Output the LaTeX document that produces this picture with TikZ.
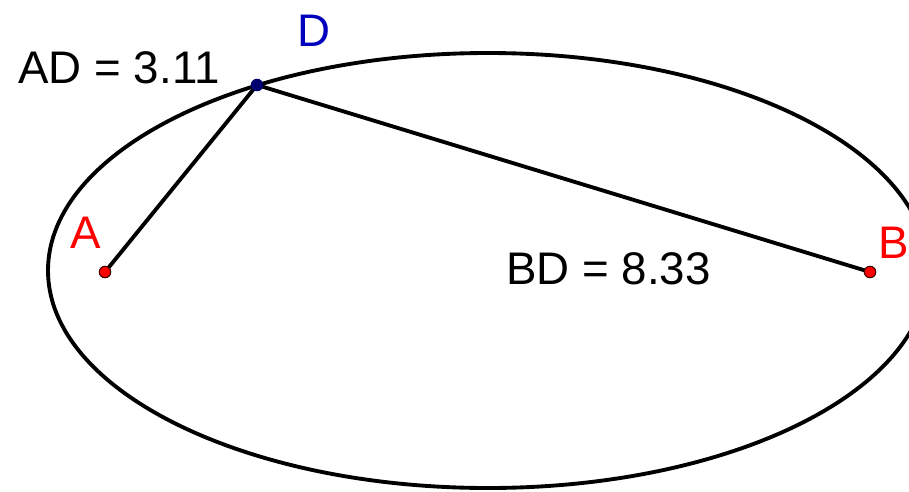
\documentclass[tikz,border=0pt]{standalone}
\usepackage{fontspec}
\setmainfont{Liberation Sans}
\usepackage{tikz}
\usetikzlibrary{positioning,calc}
\definecolor{ptred}{RGB}{255,0,0}
\definecolor{ptblue}{RGB}{0,0,190}
\definecolor{dotblue}{RGB}{0,0,110}
\definecolor{rimdark}{RGB}{60,0,0}

\begin{document}
\begin{tikzpicture}[x={(0.02cm,0)}, y={(0,-0.02cm)},
    curve/.style={line width=2.2pt, black},
    dotpt/.style={circle, fill=#1, draw=rimdark, line width=0.6pt, minimum size=0.23cm, inner sep=0pt},
    lbl/.style={inner sep=0pt, font=\fontsize{26}{31}\selectfont}]
    \useasboundingbox (0,0) rectangle (909,491);
    \clip (0,0) rectangle (909,491);

    % Foci and the point on the ellipse
    \coordinate (A) at (105,272);
    \coordinate (B) at (870,272);
    \coordinate (D) at (257,85);

    % Ellipse
    \draw[curve] (488,270.5) ellipse [x radius=440, y radius=217.5];

    % Segments to D
    \draw[curve] (A) -- (D);
    \draw[curve] (D) -- (B);

    % Points
    \node[dotpt=ptred] (dA) at (A) {};
    \node[dotpt=ptred] (dB) at (B) {};
    \node[dotpt=dotblue, draw=dotblue] (dD) at (D) {};

    % Labels
    \node[lbl, ptred] (labA) at (86,232.5) {A};
    \node[lbl, ptred] (labB) at (893.5,243) {B};
    \node[lbl, ptblue] (labD) at (314,31) {D};
    \node[lbl] (lenAD) at (119,68) {AD = 3.11};
    \node[lbl] (lenBD) at (608.5,269) {BD = 8.33};
\end{tikzpicture}
\end{document}
